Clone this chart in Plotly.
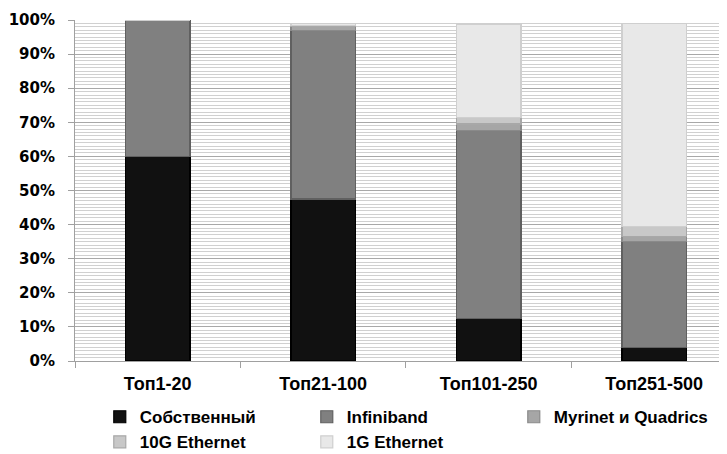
import plotly.graph_objects as go

categories = ["Топ1-20", "Топ21-100", "Топ101-250", "Топ251-500"]
series_names = ["Собственный", "Infiniband", "Myrinet и Quadrics", "10G Ethernet", "1G Ethernet"]
sobstv = [60, 47.5, 12.5, 4]
infiniband = [40, 49.5, 55, 31]
myrinet = [0, 1, 2, 1.5]
eth10g = [0, 0.5, 2, 3]
eth1g = [0, 0.5, 27.3, 59.5]
values = [sobstv, infiniband, myrinet, eth10g, eth1g]
colors = ["#111111", "#808080", "#a6a6a6", "#c8c8c8", "#e8e8e8"]
edge = ["#000000", "#606060", "#8a8a8a", "#a8a8a8", "#cfcfcf"]
y_ticks = [0, 10, 20, 30, 40, 50, 60, 70, 80, 90, 100]

fig = go.Figure()
for name, vals, c, e in zip(series_names, values, colors, edge):
    fig.add_trace(go.Bar(
        x=categories, y=vals, name=name,
        marker=dict(color=c, line=dict(color=e, width=1.2)),
    ))

fig.update_layout(
    width=727, height=446,
    barmode="stack", bargap=0.61,
    plot_bgcolor="white", paper_bgcolor="white",
    margin=dict(l=67, r=8, t=12, b=93, autoexpand=False),
    font=dict(family="Liberation Sans, Arial", size=15, color="#000000", weight="bold"),
    legend=dict(
        orientation="h", x=0.038, xanchor="left", y=-0.112, yanchor="top",
        entrywidth=162, entrywidthmode="pixels",
        font=dict(family="Liberation Sans, Arial", size=17, color="#000", weight="bold"),
        itemwidth=30, tracegroupgap=0, traceorder="normal",
    ),
    showlegend=True,
)
fig.update_xaxes(
    range=[-0.5, 3.44], showgrid=False, automargin=False,
    showline=True, linecolor="#a0a0a0", linewidth=1,
    ticks="outside", tickson="boundaries", ticklen=6, tickcolor="#a0a0a0",
    ticklabelstandoff=6,
    tickfont=dict(family="Liberation Sans, Arial", size=18, color="#000", weight="bold"),
    zeroline=False,
)
fig.update_yaxes(
    range=[0, 100], tickvals=y_ticks, ticktext=[f"{v}%" for v in y_ticks],
    automargin=False,
    showgrid=True, gridcolor="#a8a8a8", gridwidth=1,
    minor=dict(dtick=1, showgrid=True, gridcolor="#d0d0d0", gridwidth=1),
    showline=True, linecolor="#a0a0a0", linewidth=1,
    ticks="outside", ticklen=6, tickcolor="#a0a0a0",
    ticklabelstandoff=10,
    tickfont=dict(family="DejaVu Sans, Verdana", size=15, color="#000", weight="bold"),
    zeroline=False,
)

fig.write_html("out.html")
